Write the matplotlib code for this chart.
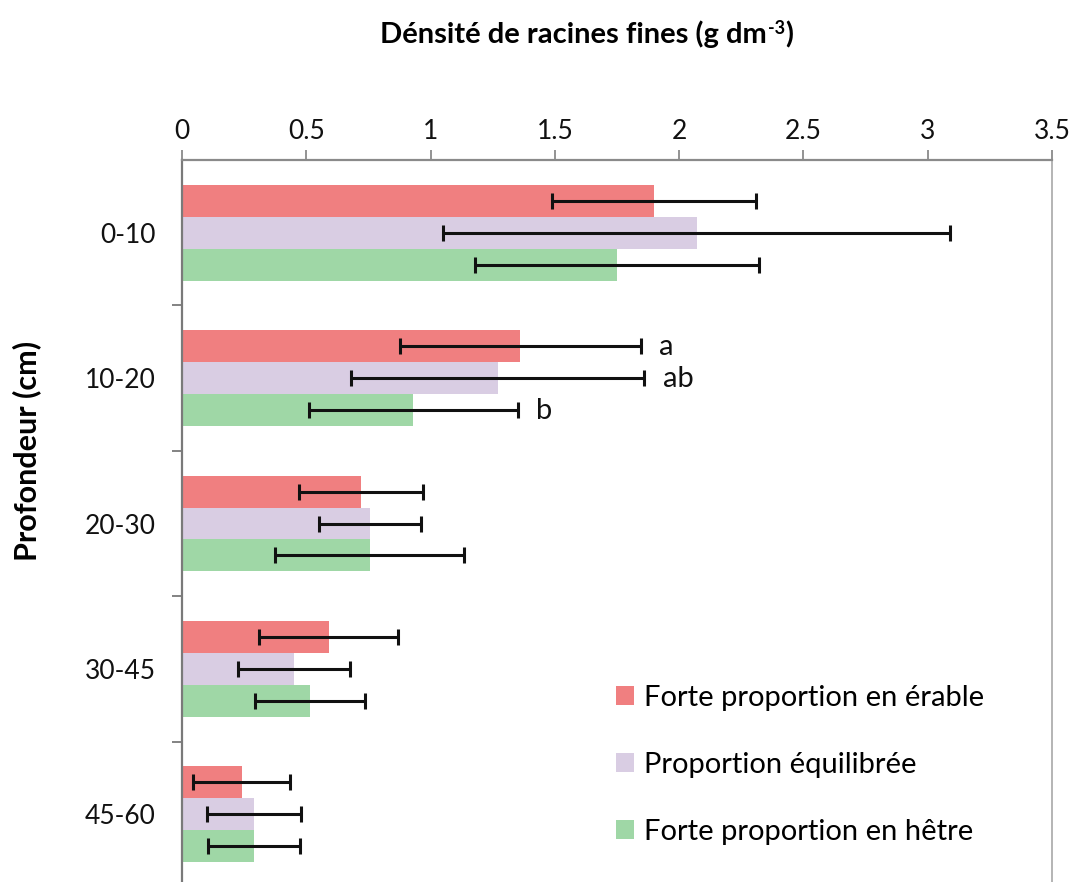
import matplotlib
matplotlib.use("Agg")
import matplotlib.pyplot as plt
from matplotlib.transforms import IdentityTransform
import numpy as np

# ---- data ----
categories = ["0-10", "10-20", "20-30", "30-45", "45-60"]
series_names = ["Forte proportion en érable", "Proportion équilibrée", "Forte proportion en hêtre"]
erable = [1.90, 1.36, 0.72, 0.59, 0.24]
erable_err = [0.41, 0.485, 0.25, 0.28, 0.195]
equilibree = [2.07, 1.27, 0.755, 0.45, 0.29]
equilibree_err = [1.02, 0.59, 0.205, 0.225, 0.19]
hetre = [1.75, 0.93, 0.755, 0.515, 0.29]
hetre_err = [0.57, 0.42, 0.38, 0.22, 0.185]
sig_category = "10-20"
sig_letters = ["a", "ab", "b"]
x_ticks = [0, 0.5, 1, 1.5, 2, 2.5, 3, 3.5]
x_ticklabels = ["0", "0.5", "1", "1.5", "2", "2.5", "3", "3.5"]
title_main = "Dénsité de racines fines (g dm"
title_sup = "-3"
title_end = ")"
ylabel = "Profondeur (cm)"

colors = ["#F07F80", "#D9CDE3", "#9FD7A6"]

plt.rcParams['font.family'] = ['Lato', 'DejaVu Sans']

W, H = 1078, 882
fig = plt.figure(figsize=(W / 100, H / 100), dpi=100)
ax = fig.add_axes([182 / W, -5 / H, 870 / W, 727 / H])

y = np.arange(len(categories))
bh = 0.22
offsets = [-bh, 0.0, bh]
values = [erable, equilibree, hetre]
errors = [erable_err, equilibree_err, hetre_err]

containers = []
for vals, errs, off, col, name in zip(values, errors, offsets, colors, series_names):
    c = ax.barh(y + off, vals, height=bh, color=col, label=name, zorder=2)
    containers.append(c)
    ax.errorbar(vals, y + off, xerr=errs, fmt='none', ecolor='#111111',
                elinewidth=2.2, capsize=5.5, capthick=2.2, zorder=3)

# significance letters
ci = categories.index(sig_category)
for vals, errs, off, letter in zip(values, errors, offsets, sig_letters):
    xx = vals[ci] + errs[ci] + 0.075
    ax.text(xx, ci + off + 0.06, letter, fontsize=21, ha='left', va='baseline',
            color='#111111')

ax.set_xlim(0, 3.5)
ax.set_ylim(len(categories) - 0.5, -0.5)

ax.xaxis.tick_top()
ax.set_xticks(x_ticks)
ax.set_xticklabels(x_ticklabels, fontsize=19)
ax.tick_params(axis='x', which='major', direction='out', length=7.5, width=1.3,
               color='#8a8a8a', pad=4, labelcolor='#111111')

ax.set_yticks(y)
ax.set_yticklabels(categories, fontsize=19)
ax.tick_params(axis='y', which='major', length=0, pad=19, labelcolor='#111111')
ax.set_yticks(np.arange(len(categories)) + 0.5, minor=True)
ax.tick_params(axis='y', which='minor', direction='out', length=7, width=1.3,
               color='#7a7a7a')

ax.spines['top'].set_color('#8a8a8a')
ax.spines['top'].set_linewidth(1.6)
ax.spines['left'].set_color('#7a7a7a')
ax.spines['left'].set_linewidth(1.6)
ax.spines['right'].set_color('#a8a8a8')
ax.spines['right'].set_linewidth(1.2)
ax.spines['bottom'].set_visible(False)

# ---- title with superscript (built from pieces, in pixel coords) ----
renderer = fig.canvas.get_renderer()
ident = IdentityTransform()
base_y = H - 43
t1 = fig.text(0, base_y, title_main, fontsize=21, fontweight='bold',
              ha='left', va='baseline', transform=ident)
t2 = fig.text(0, base_y + 9, title_sup, fontsize=13, fontweight='bold',
              ha='left', va='baseline', transform=ident)
t3 = fig.text(0, base_y, title_end, fontsize=21, fontweight='bold',
              ha='left', va='baseline', transform=ident)
w1 = t1.get_window_extent(renderer).width
w2 = t2.get_window_extent(renderer).width
w3 = t3.get_window_extent(renderer).width
x0 = 586 - (w1 + w2 + w3) / 2
t1.set_x(x0)
t2.set_x(x0 + w1 + 1)
t3.set_x(x0 + w1 + w2 + 1)

fig.text(27 / W, 1 - 451 / H, ylabel, fontsize=22, fontweight='bold',
         rotation=90, ha='center', va='center')

leg = ax.legend(handles=containers, labels=series_names, loc='center left',
                bbox_to_anchor=(616 / W, 1 - 765 / H), bbox_transform=fig.transFigure,
                frameon=False, fontsize=21, borderpad=0, borderaxespad=0,
                handlelength=0.62, handleheight=0.62, handletextpad=0.33,
                labelspacing=1.4)

fig.savefig("out.png", dpi=100)
